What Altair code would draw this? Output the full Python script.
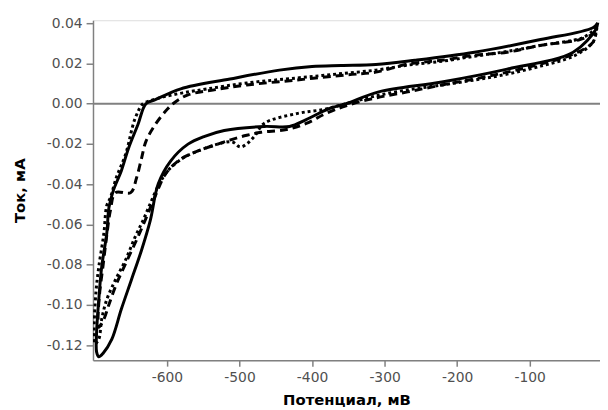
import altair as alt
import pandas as pd

# Solid curve (potential, mV / current, mA)
solid_x = [-6, -12.8, -85, -176, -258, -312, -360, -400, -445, -513, -581, -616, -629, -640,
           -653, -663, -674, -680, -683, -690, -694, -697, -697, -694, -688, -676, -663, -649,
           -635, -623, -612, -595, -571, -548, -521, -466, -431, -408, -377, -353, -308, -221,
           -131, -40, -9, -6]
solid_y = [0.0403, 0.0378, 0.0319, 0.0256, 0.0216, 0.0195, 0.0190, 0.0185, 0.0167, 0.0123,
           0.0074, 0.0020, 0.0, -0.0103, -0.0221, -0.0334, -0.0432, -0.0516, -0.0644, -0.0811,
           -0.0973, -0.1135, -0.1235, -0.1258, -0.1240, -0.1170, -0.1022, -0.0875, -0.0727,
           -0.0580, -0.0398, -0.0285, -0.0201, -0.0162, -0.0133, -0.0113, -0.0113, -0.0079,
           -0.0025, 0.0, 0.0059, 0.0108, 0.0172, 0.0256, 0.0368, 0.0403]

# Dashed curve
dashed_x = [-8.7, -30.5, -85, -131, -176, -221, -268, -312, -353, -421, -490, -535, -571, -588,
            -599, -616, -629, -635, -642, -650, -671, -678, -683, -688, -693, -695, -694, -687,
            -680, -670, -656, -642, -629, -616, -601, -581, -558, -530, -510, -490, -470, -435,
            -408, -381, -353, -312, -268, -221, -176, -131, -85, -40, -12.8, -8.7]
dashed_y = [0.0354, 0.0319, 0.0290, 0.0256, 0.0241, 0.0216, 0.0197, 0.0157, 0.0143, 0.0118,
            0.0093, 0.0069, 0.0044, 0.0010, -0.0025, -0.0103, -0.0187, -0.0270, -0.0369,
            -0.0442, -0.0442, -0.0531, -0.0654, -0.0801, -0.0948, -0.1071, -0.1111, -0.1071,
            -0.0998, -0.0899, -0.0786, -0.0678, -0.0570, -0.0457, -0.0344, -0.0275, -0.0236,
            -0.0201, -0.0177, -0.0157, -0.0142, -0.0128, -0.0098, -0.0049, -0.0010, 0.0029,
            0.0059, 0.0093, 0.0123, 0.0157, 0.0197, 0.0246, 0.0305, 0.0354]

# Dotted curve
dotted_x = [-7.3, -26.4, -85, -131, -176, -221, -268, -312, -367, -421, -490, -544, -578, -605,
            -623, -633, -644, -657, -670, -678, -683, -687, -694, -698, -700.5, -699.5, -694,
            -690, -683, -671, -657, -644, -633, -623, -612, -599, -578, -558, -530, -510, -499,
            -490, -479, -466, -421, -385, -353, -312, -268, -221, -176, -131, -85, -40, -12.8,
            -7.3]
dotted_y = [0.0378, 0.0329, 0.0290, 0.0260, 0.0236, 0.0211, 0.0192, 0.0167, 0.0147, 0.0128,
            0.0103, 0.0074, 0.0054, 0.0034, 0.0015, 0.0, -0.0074, -0.0251, -0.0369, -0.0467,
            -0.0506, -0.0644, -0.0811, -0.0939, -0.1135, -0.1194, -0.1170, -0.1071, -0.0973,
            -0.0875, -0.0776, -0.0663, -0.0580, -0.0496, -0.0408, -0.0334, -0.0270, -0.0236,
            -0.0201, -0.0190, -0.0215, -0.0200, -0.0160, -0.0098, -0.0049, -0.0029, 0.0,
            0.0039, 0.0069, 0.0093, 0.0118, 0.0147, 0.0187, 0.0236, 0.0305, 0.0378]

x_ticks = [-600, -500, -400, -300, -200, -100]
y_ticks = [0.04, 0.02, 0.0, -0.02, -0.04, -0.06, -0.08, -0.10, -0.12]

rows = []
for name, xs, ys in [("solid", solid_x, solid_y), ("dashed", dashed_x, dashed_y),
                     ("dotted", dotted_x, dotted_y)]:
    assert len(xs) == len(ys), name
    for i, (a, b) in enumerate(zip(xs, ys)):
        rows.append({"series": name, "i": i, "E": a, "I": b})
df = pd.DataFrame(rows)

FONT = "DejaVu Sans"
LABEL_COLOR = "#505050"
xscale = alt.Scale(domain=[-702, -3], nice=False, zero=False)
yscale = alt.Scale(domain=[-0.1275, 0.0415], nice=False, zero=False)

xaxis = alt.Axis(values=x_ticks, title="Потенциал, мВ", grid=False, domainColor="#808080",
                 domainWidth=1.5, tickColor="#808080", tickWidth=1.5, tickSize=6,
                 labelPadding=5, labelFont=FONT, labelFontSize=14, labelColor=LABEL_COLOR,
                 labelExpr="replace(format(datum.value, 'd'), '\u2212', '-')",
                 titleFont=FONT, titleFontSize=15, titleFontWeight="bold", titleColor="#000000",
                 titleY=45, titleBaseline="alphabetic", labelFlush=False)
yaxis = alt.Axis(values=y_ticks, title="Ток, мА", grid=False, domainColor="#808080",
                 domainWidth=1.5, tickColor="#808080", tickWidth=1.5, tickSize=7,
                 labelPadding=4, labelFont=FONT, labelFontSize=14, labelColor=LABEL_COLOR,
                 labelExpr="replace(format(datum.value, '.2f'), '\u2212', '-')",
                 titleFont=FONT, titleFontSize=15, titleFontWeight="bold", titleColor="#000000",
                 titleX=-69, titleY=172, titleAngle=270, titleBaseline="alphabetic",
                 titleAlign="center", labelFlush=False)

base = alt.Chart(df)
zero = alt.Chart(pd.DataFrame({"z": [0.0]})).mark_rule(color="#808080", strokeWidth=2).encode(
    y=alt.Y("z:Q", scale=yscale, axis=yaxis))

def curve(name, dash):
    kw = dict(color="#000000", strokeWidth=3, clip=True, strokeCap="butt", strokeJoin="round",
              interpolate="catmull-rom")
    if dash:
        kw["strokeDash"] = dash
    return base.transform_filter(alt.datum.series == name).mark_line(**kw).encode(
        x=alt.X("E:Q", scale=xscale, axis=xaxis),
        y=alt.Y("I:Q", scale=yscale, axis=yaxis),
        order=alt.Order("i:Q"))

chart = alt.layer(zero, curve("dotted", [3, 3]), curve("dashed", [8, 5]),
                  curve("solid", None)).properties(
    width=513, height=344,
    autosize=alt.AutoSizeParams(type="none"),
    padding={"left": 86, "top": 10, "right": 0, "bottom": 48},
).configure_view(stroke=None).configure(background="#ffffff")

chart.save("out.html", embed_options={"renderer": "svg", "actions": False})
